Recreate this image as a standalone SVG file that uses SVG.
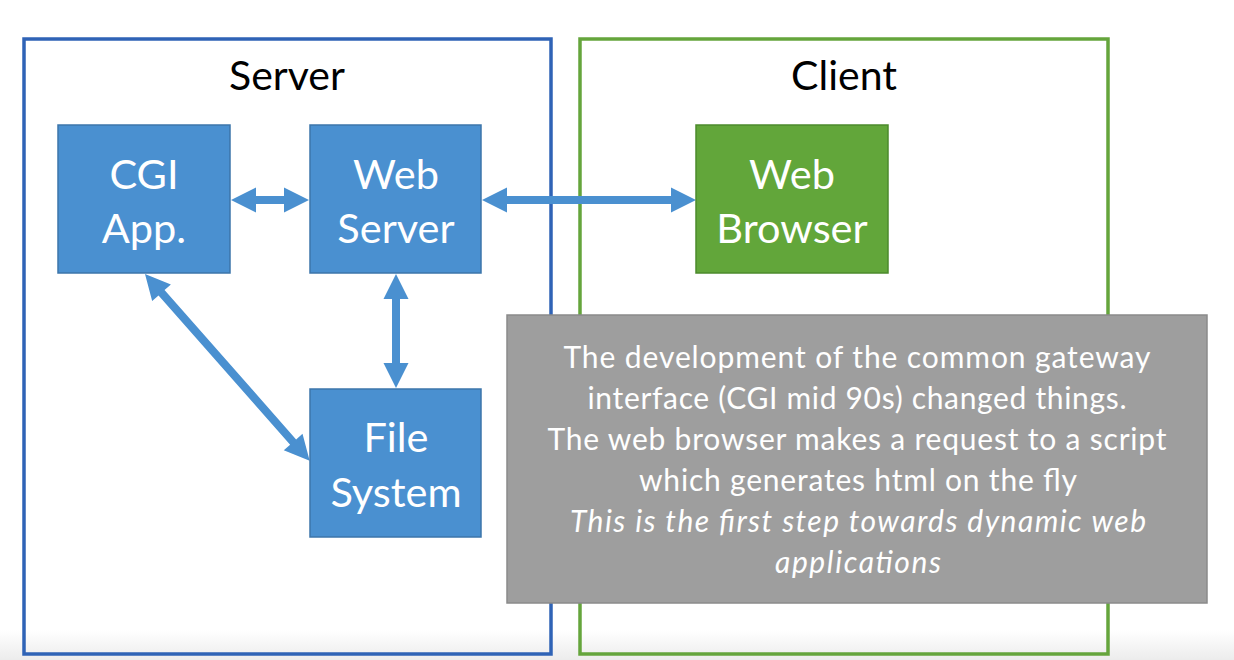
<svg xmlns="http://www.w3.org/2000/svg" width="1234" height="660" viewBox="0 0 1234 660">
<defs>
<style>
.frame{fill:none;stroke-width:3.5}
.title{font-family:Lato,"Noto Sans",sans-serif;font-size:41px;fill:#000;text-anchor:middle}
.blue{fill:#4A90D0;stroke:#3C75AA;stroke-width:1.5}
.green{fill:#62A63A;stroke:#4C8A2C;stroke-width:1.5}
.lbl{font-family:Lato,"Noto Sans",sans-serif;font-size:41.5px;fill:#fff;text-anchor:middle}
.arrow{fill:#4A90D0}
.note{font-family:Lato,"Noto Sans",sans-serif;font-size:30px;fill:#fff;text-anchor:middle}
</style>
<linearGradient id="bot" x1="0" y1="0" x2="0" y2="1">
<stop offset="0" stop-color="#ffffff"/>
<stop offset="1" stop-color="#ececec"/>
</linearGradient>
</defs>
<rect width="1234" height="660" fill="#fff"/>
<rect x="0" y="630" width="1234" height="30" fill="url(#bot)"/>
<g id="server-container">
<rect class="frame" x="24" y="39" width="527" height="615" stroke="#2F63B6"/>
<text class="title" x="287" y="90">Server</text>
</g>
<g id="client-container">
<rect class="frame" x="580" y="39" width="528" height="615" stroke="#65A53C"/>
<text class="title" x="844" y="90">Client</text>
</g>
<g id="connectors">
<polygon class="arrow" points="231,200 256,187.5 256,196 284,196 284,187.5 309,200 284,212.5 284,204 256,204 256,212.5"/>
<polygon class="arrow" points="482,200 507,187.5 507,196 671,196 671,187.5 696,200 671,212.5 671,204 507,204 507,212.5"/>
<polygon class="arrow" points="396,274 408.5,299 400,299 400,363 408.5,363 396,388 383.5,363 392,363 392,299 383.5,299"/>
<g transform="translate(145,274) rotate(48.6)">
<polygon class="arrow" points="0,0 25,-12.5 25,-4 224,-4 224,-12.5 249,0 224,12.5 224,4 25,4 25,12.5"/>
</g>
</g>
<g id="cgi-app">
<rect class="blue" x="58" y="125" width="172" height="148"/>
<text class="lbl" x="144" y="189">CGI</text>
<text class="lbl" x="144" y="243">App.</text>
</g>
<g id="web-server">
<rect class="blue" x="310" y="125" width="171" height="148"/>
<text class="lbl" x="396" y="189">Web</text>
<text class="lbl" x="396" y="243">Server</text>
</g>
<g id="web-browser">
<rect class="green" x="696" y="125" width="192" height="148"/>
<text class="lbl" x="792" y="189">Web</text>
<text class="lbl" x="792" y="243">Browser</text>
</g>
<g id="file-system">
<rect class="blue" x="310" y="389" width="171" height="148"/>
<text class="lbl" x="396" y="452">File</text>
<text class="lbl" x="396" y="507">System</text>
</g>
<g id="note">
<rect x="507" y="315" width="700" height="288" fill="#9E9E9E" stroke="#8A8A8A" stroke-width="1.5"/>
<text class="note" x="857" y="368" textLength="587" lengthAdjust="spacing">The development of the common gateway</text>
<text class="note" x="857" y="409" textLength="539" lengthAdjust="spacing">interface (CGI mid 90s) changed things.</text>
<text class="note" x="857" y="450" textLength="619" lengthAdjust="spacing">The web browser makes a request to a script</text>
<text class="note" x="858" y="491" textLength="438" lengthAdjust="spacing">which generates html on the fly</text>
<text class="note" x="858" y="532" font-style="italic" textLength="576" lengthAdjust="spacing">This is the first step towards dynamic web</text>
<text class="note" x="858" y="573" font-style="italic" textLength="166" lengthAdjust="spacing">applications</text>
</g>
</svg>
